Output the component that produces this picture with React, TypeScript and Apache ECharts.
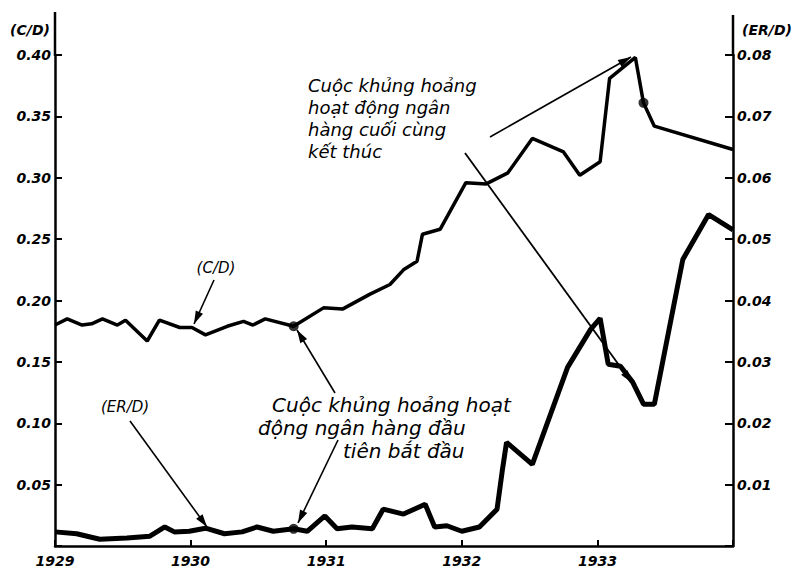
import React, { useEffect, useRef } from "react";
import * as echarts from "echarts";

// C/D ratio (left axis) — vertices
const cdYears = [1929.0, 1929.09, 1929.2, 1929.27, 1929.35, 1929.46, 1929.52, 1929.68, 1929.77, 1929.92, 1930.01, 1930.11, 1930.27, 1930.39, 1930.46, 1930.55, 1930.76, 1930.98, 1931.12, 1931.32, 1931.47, 1931.57, 1931.67, 1931.71, 1931.84, 1932.03, 1932.18, 1932.34, 1932.52, 1932.75, 1932.87, 1933.02, 1933.09, 1933.28, 1933.34, 1933.42, 1934.0];
const cdValues = [0.18, 0.185, 0.18, 0.181, 0.185, 0.18, 0.184, 0.167, 0.184, 0.178, 0.178, 0.172, 0.179, 0.183, 0.18, 0.185, 0.179, 0.194, 0.193, 0.205, 0.213, 0.225, 0.232, 0.254, 0.258, 0.296, 0.295, 0.304, 0.332, 0.321, 0.302, 0.313, 0.381, 0.398, 0.361, 0.342, 0.323];

// ER/D ratio (right axis)
const erYears = [1929.0, 1929.16, 1929.33, 1929.53, 1929.7, 1929.81, 1929.88, 1929.99, 1930.11, 1930.25, 1930.38, 1930.49, 1930.61, 1930.76, 1930.86, 1930.99, 1931.08, 1931.19, 1931.34, 1931.42, 1931.57, 1931.73, 1931.8, 1931.89, 1932.0, 1932.13, 1932.26, 1932.3, 1932.33, 1932.52, 1932.78, 1932.95, 1933.02, 1933.08, 1933.17, 1933.26, 1933.34, 1933.42, 1933.63, 1933.82, 1934.0];
const erValues = [0.0023, 0.002, 0.0011, 0.0013, 0.0016, 0.0031, 0.0023, 0.0024, 0.0029, 0.002, 0.0023, 0.0031, 0.0024, 0.0028, 0.0024, 0.0049, 0.0028, 0.0031, 0.0028, 0.006, 0.0052, 0.0068, 0.0031, 0.0033, 0.0024, 0.0031, 0.006, 0.0125, 0.0169, 0.0133, 0.0291, 0.0353, 0.0371, 0.0296, 0.0293, 0.0267, 0.0231, 0.0231, 0.0467, 0.054, 0.0515];

// Marked points
const cdDotYears = [1930.76, 1933.34];
const cdDotValues = [0.179, 0.361];
const erDotYears = [1930.76];
const erDotValues = [0.0028];

// Axis ticks
const xYears = [1929, 1930, 1931, 1932, 1933];
const leftLabelName = "(C/D)";
const rightLabelName = "(ER/D)";

const FONT = "DejaVu Sans";

function arrow(x1: number, y1: number, x2: number, y2: number, head = true, w = 1.6): any[] {
  const els: any[] = [
    { type: "line", shape: { x1, y1, x2, y2 }, style: { stroke: "#000", lineWidth: w }, z: 100 },
  ];
  if (head) {
    const dx = x2 - x1, dy = y2 - y1;
    const L = Math.sqrt(dx * dx + dy * dy);
    const ux = dx / L, uy = dy / L;
    const hl = 13, hw = 4;
    const bx = x2 - ux * hl, by = y2 - uy * hl;
    els.push({
      type: "polygon",
      shape: { points: [[x2, y2], [bx - uy * hw, by + ux * hw], [bx + uy * hw, by - ux * hw]] },
      style: { fill: "#000" },
      z: 100,
    });
  }
  return els;
}

function txt(text: string, x: number, y: number, size = 18, align = "left", weight = "normal"): any {
  return {
    type: "text",
    x,
    y,
    z: 100,
    style: {
      text,
      fontFamily: FONT,
      fontStyle: "italic",
      fontWeight: weight,
      fontSize: size,
      fill: "#000",
      textAlign: align,
      textVerticalAlign: "middle",
    },
  };
}

export default function App() {
  const ref = useRef<HTMLDivElement>(null);
  useEffect(() => {
    if (!ref.current) return;
    const chart = echarts.init(ref.current, null, { renderer: "svg" });
    const labelStyle = {
      fontFamily: FONT,
      fontStyle: "italic",
      fontWeight: "bold",
      fontSize: 14,
      color: "#000",
    };
    const graphic: any[] = [
      // axis extensions above top ticks
      { type: "line", shape: { x1: 55, y1: 12, x2: 55, y2: 56 }, style: { stroke: "#000", lineWidth: 2.5 }, z: 90 },
      { type: "line", shape: { x1: 733, y1: 15, x2: 733, y2: 56 }, style: { stroke: "#000", lineWidth: 2.5 }, z: 90 },
      txt(leftLabelName, 30, 30, 14, "center", "bold"),
      txt(rightLabelName, 767, 30, 14, "center", "bold"),
      txt("(C/D)", 216, 268, 15, "center"),
      txt("(ER/D)", 125, 407, 15, "center"),
      txt("Cuộc khủng hoảng", 308, 85, 18),
      txt("hoạt động ngân", 308, 107, 18),
      txt("hàng cuối cùng", 308, 129, 18),
      txt("kết thúc", 308, 151, 18),
      txt("Cuộc khủng hoảng hoạt", 272, 405, 20),
      txt("động ngân hàng đầu", 258, 428, 20),
      txt("tiên bắt đầu", 343, 451, 20),
      ...arrow(214, 280, 194, 324),
      ...arrow(130, 421, 207, 527),
      ...arrow(335, 393, 297, 330),
      ...arrow(338, 440, 298, 523),
      ...arrow(490, 137, 631, 57),
      ...arrow(465, 153, 632, 383, true, 1.8),
    ];
    chart.setOption({
      animation: false,
      backgroundColor: "#fff",
      grid: { left: 55, right: 67, top: 55, bottom: 21 },
      xAxis: {
        type: "value",
        min: 1929,
        max: 1934,
        interval: 1,
        axisLine: { show: true, lineStyle: { color: "#000", width: 2.5 } },
        axisTick: { show: true, inside: true, length: 6, lineStyle: { color: "#000", width: 2 } },
        splitLine: { show: false },
        axisLabel: {
          ...labelStyle,
          margin: 8,
          formatter: (v: number) => (xYears.includes(Math.round(v)) ? String(Math.round(v)) : ""),
        },
      },
      yAxis: [
        {
          type: "value",
          min: 0,
          max: 0.4,
          interval: 0.05,
          position: "left",
          axisLine: { show: true, lineStyle: { color: "#000", width: 2.5 } },
          axisTick: { show: true, inside: true, length: 7, lineStyle: { color: "#000", width: 2 } },
          splitLine: { show: false },
          axisLabel: { ...labelStyle, margin: 4, formatter: (v: number) => (v > 0.001 ? v.toFixed(2) : "") },
        },
        {
          type: "value",
          min: 0,
          max: 0.08,
          interval: 0.01,
          position: "right",
          axisLine: { show: true, lineStyle: { color: "#000", width: 2.5 } },
          axisTick: { show: true, inside: true, length: 8, lineStyle: { color: "#000", width: 2 } },
          splitLine: { show: false },
          axisLabel: { ...labelStyle, margin: 4, formatter: (v: number) => (v > 0.0001 ? v.toFixed(2) : "") },
        },
      ],
      series: [
        {
          name: "C/D",
          type: "line",
          yAxisIndex: 0,
          data: cdYears.map((y, i) => [y, cdValues[i]]),
          symbol: "none",
          lineStyle: { color: "#000", width: 3.5 },
          z: 5,
        },
        {
          name: "ER/D",
          type: "line",
          yAxisIndex: 1,
          data: erYears.map((y, i) => [y, erValues[i]]),
          symbol: "none",
          lineStyle: { color: "#000", width: 5 },
          z: 5,
        },
        {
          type: "scatter",
          yAxisIndex: 0,
          data: cdDotYears.map((y, i) => [y, cdDotValues[i]]),
          symbolSize: 10,
          itemStyle: { color: "#000" },
          z: 6,
        },
        {
          type: "scatter",
          yAxisIndex: 1,
          data: erDotYears.map((y, i) => [y, erDotValues[i]]),
          symbolSize: 10,
          itemStyle: { color: "#000" },
          z: 6,
        },
      ],
      graphic,
    });
    return () => chart.dispose();
  }, []);
  return (
    <div
      ref={ref}
      style={{ position: "fixed", left: 0, top: 0, width: 800, height: 568, background: "#fff" }}
    />
  );
}
